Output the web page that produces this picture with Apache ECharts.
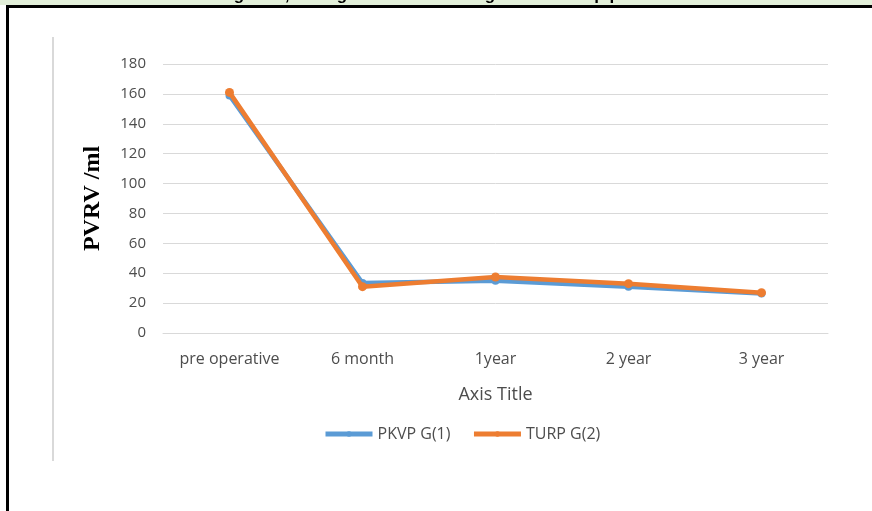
<!DOCTYPE html>
<html>
<head>
<meta charset="utf-8">
<script src="https://cdn.jsdelivr.net/npm/echarts@6/dist/echarts.min.js"></script>
<style>
  html, body { margin: 0; padding: 0; background: #fff; }
  #chart { width: 872px; height: 511px; }
</style>
</head>
<body>
<div id="chart"></div>
<script>
  // 随访时间点
  var categories = ['pre operative', '6 month', '1year', '2 year', '3 year'];
  var pkvpG1 = [159, 33.5, 35, 31, 26.5];
  var turpG2 = [161, 31, 37.5, 33, 27];
  var yTicks = [0, 180, 20]; // min, max, interval

  var myChart = echarts.init(document.getElementById('chart'));

  var labelFont = '"Open Sans", "Liberation Sans", sans-serif';
  var labelColor = '#4d4d4d';

  var option = {
    backgroundColor: '#ffffff',
    animation: false,
    graphic: [
      // 顶部被截断的表格标题行
      {type: 'rect', shape: {x: 0, y: 0, width: 872, height: 5}, style: {fill: '#e2efd9'}, z: 1},
      {type: 'text', x: 440, y: 4, style: {
        text: 'Figure 2, Changes of PVRV during the follow up period',
        font: 'bold 17px "Liberation Sans", sans-serif', fill: '#000',
        align: 'center', verticalAlign: 'bottom'}, z: 2},
      {type: 'rect', shape: {x: 7, y: 5, width: 865, height: 3}, style: {fill: '#000'}, z: 3},
      {type: 'rect', shape: {x: 6, y: 5, width: 3, height: 506}, style: {fill: '#000'}, z: 3},
      // 图表区左边框
      {type: 'rect', shape: {x: 52, y: 37, width: 2, height: 424}, style: {fill: '#d9d9d9'}, z: 1}
    ],
    grid: {left: 163, right: 44, top: 64, bottom: 178},
    legend: {
      data: ['PKVP G(1)', 'TURP G(2)'],
      left: 318,
      top: 421,
      itemWidth: 47,
      itemHeight: 7,
      itemGap: 21,
      lineStyle: {width: 5},
      textStyle: {color: labelColor, fontSize: 16, fontFamily: labelFont}
    },
    xAxis: {
      type: 'category',
      data: categories,
      boundaryGap: true,
      name: 'Axis Title',
      nameLocation: 'middle',
      nameGap: 53,
      nameTextStyle: {color: labelColor, fontSize: 18, fontFamily: labelFont},
      axisLine: {lineStyle: {color: '#d9d9d9', width: 1}},
      axisTick: {show: false},
      axisLabel: {color: labelColor, fontSize: 16, fontFamily: labelFont, margin: 18}
    },
    yAxis: {
      type: 'value',
      min: yTicks[0],
      max: yTicks[1],
      interval: yTicks[2],
      name: 'PVRV /ml',
      nameLocation: 'middle',
      nameGap: 58,
      nameRotate: 90,
      nameTextStyle: {color: '#000', fontSize: 24, fontWeight: 'bold', fontFamily: '"Liberation Serif", "DejaVu Serif", serif'},
      axisLine: {show: false},
      axisTick: {show: false},
      axisLabel: {color: labelColor, fontSize: 15, fontFamily: labelFont, margin: 17},
      splitLine: {lineStyle: {color: '#d9d9d9', width: 1}}
    },
    series: [
      {
        name: 'PKVP G(1)',
        type: 'line',
        data: pkvpG1,
        symbol: 'circle',
        symbolSize: 8,
        itemStyle: {color: '#5b9bd5'},
        lineStyle: {color: '#5b9bd5', width: 4.5},
        z: 2
      },
      {
        name: 'TURP G(2)',
        type: 'line',
        data: turpG2,
        symbol: 'circle',
        symbolSize: 9,
        itemStyle: {color: '#ed7d31'},
        lineStyle: {color: '#ed7d31', width: 4.5},
        z: 3
      }
    ]
  };

  myChart.setOption(option);
  window.addEventListener('resize', function () {
    myChart.resize();
  });
</script>
</body>
</html>
